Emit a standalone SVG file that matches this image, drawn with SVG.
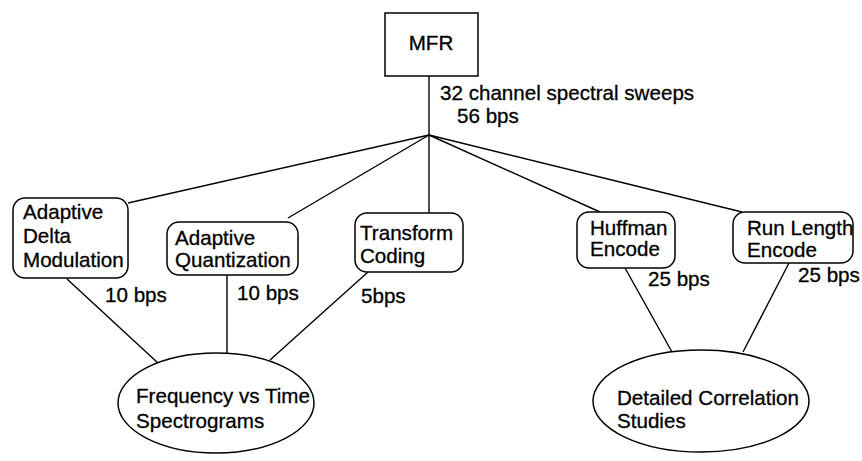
<svg xmlns="http://www.w3.org/2000/svg" width="862" height="461" viewBox="0 0 862 461">
<style>
.box{fill:#fff;stroke:#000;stroke-width:1.5}
.ln{stroke:#000;stroke-width:1.4;fill:none}
text{font-family:"Liberation Sans",Arial,sans-serif;font-size:20.6px;fill:#000;stroke:#000;stroke-width:0.3}
</style>
<rect width="862" height="461" fill="#fff"/>
<g id="connectors">
<line class="ln" x1="429" y1="76" x2="429" y2="135"/>
<line class="ln" x1="429" y1="135" x2="128" y2="203"/>
<line class="ln" x1="429" y1="135" x2="288" y2="218"/>
<line class="ln" x1="429" y1="135" x2="429" y2="213"/>
<line class="ln" x1="429" y1="135" x2="600" y2="212"/>
<line class="ln" x1="429" y1="135" x2="742" y2="212"/>
<line class="ln" x1="67" y1="279" x2="158" y2="363"/>
<line class="ln" x1="227" y1="275" x2="227" y2="353"/>
<line class="ln" x1="368" y1="272" x2="270" y2="360"/>
<line class="ln" x1="625" y1="268" x2="672" y2="352"/>
<line class="ln" x1="789" y1="263" x2="743" y2="352"/>
<text x="440" y="100">32 channel spectral sweeps</text>
<text x="457" y="123">56 bps</text>
<text x="105" y="302">10 bps</text>
<text x="237" y="300">10 bps</text>
<text x="361" y="303">5bps</text>
<text x="648" y="286">25 bps</text>
<text x="798" y="282">25 bps</text>
</g>
<g id="mfr">
<rect class="box" x="385" y="13" width="93" height="63"/>
<text x="431" y="50" text-anchor="middle">MFR</text>
</g>
<g id="adm">
<rect class="box" x="13" y="198" width="115" height="80" rx="12"/>
<text x="23" y="219">Adaptive</text>
<text x="23" y="243">Delta</text>
<text x="23" y="267">Modulation</text>
</g>
<g id="aq">
<rect class="box" x="167" y="222" width="131" height="53" rx="12"/>
<text x="175" y="245">Adaptive</text>
<text x="175" y="267">Quantization</text>
</g>
<g id="tc">
<rect class="box" x="355" y="213" width="108" height="59" rx="12"/>
<text x="360" y="240">Transform</text>
<text x="360" y="263">Coding</text>
</g>
<g id="huff">
<rect class="box" x="577" y="212" width="98" height="56" rx="12"/>
<text x="590" y="235">Huffman</text>
<text x="590" y="256">Encode</text>
</g>
<g id="rle">
<rect class="box" x="733" y="212" width="120" height="51" rx="12"/>
<text x="747" y="235">Run Length</text>
<text x="747" y="257">Encode</text>
</g>
<g id="freq">
<ellipse class="box" cx="216" cy="403" rx="98" ry="50"/>
<text x="136" y="403">Frequency vs Time</text>
<text x="136" y="428">Spectrograms</text>
</g>
<g id="corr">
<ellipse class="box" cx="701" cy="401" rx="108" ry="51"/>
<text x="617" y="405">Detailed Correlation</text>
<text x="617" y="428">Studies</text>
</g>
</svg>
